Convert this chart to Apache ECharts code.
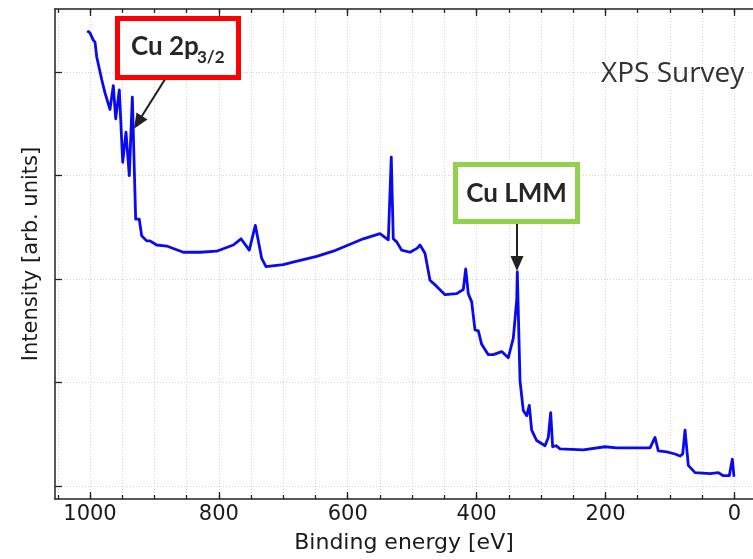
<!DOCTYPE html>
<html>
<head>
<meta charset="utf-8">
<script src="https://cdn.jsdelivr.net/npm/echarts@6/dist/echarts.min.js"></script>
<style>
html,body{margin:0;padding:0;background:#fff;}
#chart{width:753px;height:559px;}
</style>
</head>
<body>
<div id="chart"></div>
<script>
// Binding energy (eV) and intensity (arb. units)
const energy = [1004.2,1002.6,1000.0,994.9,992.2,989.6,981.8,976.7,969.0,963.8,960.1,954.5,949.2,944.1,939.0,934.3,929.1,923.5,919.8,912.0,906.9,896.5,881.0,855.2,829.3,803.4,777.6,765.6,752.8,743.4,733.5,726.8,700.0,681.8,648.1,622.4,599.1,575.8,549.9,537.0,532.4,529.3,524.0,516.2,503.3,492.0,487.8,480.1,472.3,461.9,449.0,430.9,420.6,416.9,412.9,407.6,402.5,397.3,392.1,381.8,374.0,361.0,350.8,343.0,337.7,336.8,332.6,327.5,322.2,318.2,314.5,306.7,293.8,288.7,285.0,281.9,276.7,270.5,234.4,200.7,182.5,130.8,123.1,118.0,104.9,92.0,84.3,80.1,76.5,71.4,61.0,37.7,24.8,17.1,7.8,3.1,0.5];
const intensity = [5.40,5.39,5.38,5.31,5.29,5.15,4.93,4.80,4.64,4.87,4.55,4.83,4.13,4.42,4.00,4.76,3.58,3.58,3.42,3.37,3.37,3.33,3.32,3.26,3.26,3.27,3.33,3.39,3.28,3.52,3.20,3.12,3.14,3.17,3.22,3.27,3.33,3.39,3.44,3.38,4.18,3.39,3.36,3.28,3.26,3.30,3.33,3.25,2.99,2.93,2.85,2.86,2.90,3.10,2.86,2.78,2.51,2.50,2.37,2.27,2.27,2.30,2.24,2.43,2.80,3.07,2.02,1.73,1.68,1.78,1.54,1.44,1.39,1.47,1.71,1.38,1.39,1.36,1.35,1.38,1.37,1.37,1.47,1.34,1.33,1.31,1.29,1.31,1.54,1.20,1.13,1.12,1.13,1.10,1.10,1.26,1.09];

const xLabelValues = [0,200,400,600,800,1000];
const xMinorTicks = [0,50,100,150,200,250,300,350,400,450,500,550,600,650,700,750,800,850,900,950,1000,1050];
const yTickValues = [1,2,3,4,5];

// annotation anchors (data coordinates)
const arrow2p = [[871.2,5.054],[925.5,4.516]];
const arrowLMM = [[337.3,3.536],[337.3,3.152]];

const seriesData = energy.map((e,i)=>[e,intensity[i]]);

const FONT = 'DejaVu Sans';
const AX = '#222';
const gridLine = {show:true, lineStyle:{color:'#d4d4d4', type:[1,2], width:1}};

function xAx(pos, tickVals, tickLen, opts){
  return Object.assign({
    type:'value', position:pos, inverse:true, min:-29, max:1054.3,
    axisLine:{show:false, onZero:false},
    axisTick:{show:true, inside:true, length:tickLen, customValues:tickVals, lineStyle:{color:AX,width:1.3}},
    axisLabel:{show:false},
    splitLine:{show:false}
  }, opts||{});
}

const chart = echarts.init(document.getElementById('chart'), null, {renderer:'canvas'});
chart.setOption({
  animation:false,
  backgroundColor:'#fff',
  grid:{left:55, right:0, top:9, bottom:57, containLabel:false},
  xAxis:[
    xAx('bottom', xMinorTicks, 4, {
      axisLine:{show:true, onZero:false, lineStyle:{color:AX, width:1.5}},
      splitLine:gridLine,
      axisLabel:{show:true, customValues:xLabelValues, formatter:v=>String(v), fontFamily:FONT, fontSize:21, color:'#1a1a1a', margin:5},
      name:'Binding energy [eV]', nameLocation:'middle', nameGap:33,
      nameTextStyle:{fontFamily:FONT, fontSize:22, color:'#1a1a1a'}
    }),
    xAx('bottom', xLabelValues, 7),
    xAx('top', xMinorTicks, 4, {axisLine:{show:true, onZero:false, lineStyle:{color:AX, width:1.5}}}),
    xAx('top', xLabelValues, 7)
  ],
  yAxis:{
    type:'value', min:0.875, max:5.611, position:'left',
    axisLine:{show:true, onZero:false, lineStyle:{color:AX, width:1.5}},
    axisTick:{show:true, inside:true, length:7, customValues:yTickValues, lineStyle:{color:AX,width:1.3}},
    axisLabel:{show:false},
    splitLine:gridLine,
    name:'Intensity [arb. units]', nameLocation:'middle', nameGap:13,
    nameTextStyle:{fontFamily:FONT, fontSize:21, color:'#1a1a1a'}
  },
  series:[{
    type:'line', xAxisIndex:0, data:seriesData, showSymbol:false, symbol:'none',
    lineStyle:{color:'#0a0af0', width:2.8, join:'round'},
    markLine:{
      silent:true, animation:false,
      symbol:['none','triangle'], symbolSize:[13,15],
      label:{show:false},
      lineStyle:{color:'#222', width:2, type:'solid'},
      data:[
        [{coord:arrow2p[0]},{coord:arrow2p[1]}],
        [{coord:arrowLMM[0]},{coord:arrowLMM[1]}]
      ]
    }
  }],
  graphic:[
    {type:'rect', shape:{x:117.5,y:18.5,width:121,height:59}, style:{fill:'#fff', stroke:'#ff0000', lineWidth:5}, z:100},
    {type:'text', x:131, y:47, style:{text:'Cu 2p', font:'bold 26px Lato', fill:'#262626', textVerticalAlign:'middle'}, z:101},
    {type:'text', x:197, y:58, style:{text:'3/2', font:'bold 17px Lato', fill:'#262626', textVerticalAlign:'middle'}, z:101},
    {type:'rect', shape:{x:455.5,y:164.5,width:122,height:57}, style:{fill:'#fff', stroke:'#92d050', lineWidth:5}, z:100},
    {type:'text', x:516.5, y:194, style:{text:'Cu LMM', font:'bold 26px Lato', fill:'#262626', textAlign:'center', textVerticalAlign:'middle'}, z:101},
    {type:'text', x:601, y:74, style:{text:'XPS Survey', font:'28px "Open Sans"', fill:'#333', textVerticalAlign:'middle'}, z:101}
  ]
});
</script>
</body>
</html>
